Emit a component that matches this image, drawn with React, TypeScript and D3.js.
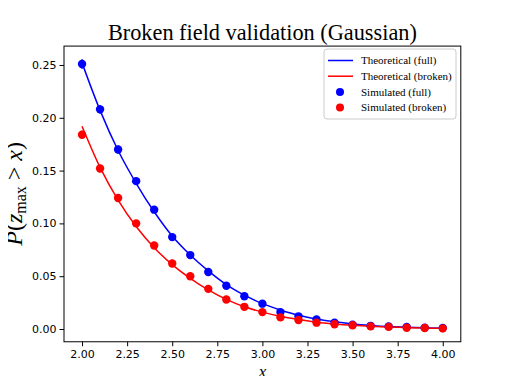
import React, { useEffect, useRef } from "react";
import * as d3 from "d3";

// x grid of the simulation / theory
const xs = [2.0, 2.1, 2.2, 2.3, 2.4, 2.5, 2.6, 2.7, 2.8, 2.9, 3.0, 3.1, 3.2, 3.3, 3.4, 3.5, 3.6, 3.7, 3.8, 3.9, 4.0];

const theoryFull = [0.252, 0.207, 0.169, 0.138, 0.111, 0.088, 0.070, 0.055, 0.042, 0.032, 0.024, 0.018, 0.013, 0.0095, 0.0068, 0.0048, 0.0034, 0.0023, 0.0016, 0.0011, 0.0007];
const theoryBroken = [0.192, 0.153, 0.122, 0.097, 0.077, 0.061, 0.048, 0.037, 0.028, 0.021, 0.016, 0.012, 0.009, 0.0065, 0.0048, 0.0035, 0.0025, 0.0018, 0.0013, 0.0009, 0.0006];

const simFull = [0.251, 0.208, 0.170, 0.140, 0.113, 0.087, 0.070, 0.054, 0.041, 0.031, 0.024, 0.016, 0.012, 0.009, 0.006, 0.004, 0.003, 0.0025, 0.002, 0.0013, 0.001];
const simFullErr = [0.0045, 0.0041, 0.0038, 0.0035, 0.0032, 0.0028, 0.0026, 0.0023, 0.002, 0.0017, 0.0015, 0.0013, 0.0011, 0.0009, 0.0008, 0.0006, 0.0005, 0.0005, 0.0004, 0.0004, 0.0003];
const simBroken = [0.184, 0.152, 0.124, 0.100, 0.079, 0.062, 0.050, 0.038, 0.028, 0.021, 0.016, 0.011, 0.0085, 0.006, 0.0045, 0.0035, 0.0025, 0.002, 0.0012, 0.001, 0.0006];
const simBrokenErr = [0.0039, 0.0036, 0.0033, 0.003, 0.0027, 0.0024, 0.0022, 0.0019, 0.0017, 0.0014, 0.0013, 0.0011, 0.0009, 0.0008, 0.0007, 0.0006, 0.0005, 0.0004, 0.0003, 0.0003, 0.0002];

const xTicks = [2.0, 2.25, 2.5, 2.75, 3.0, 3.25, 3.5, 3.75, 4.0];
const yTicks = [0.0, 0.05, 0.1, 0.15, 0.2, 0.25];

const legendItems = [
  { label: "Theoretical (full)", color: "blue", kind: "line" },
  { label: "Theoretical (broken)", color: "red", kind: "line" },
  { label: "Simulated (full)", color: "blue", kind: "dot" },
  { label: "Simulated (broken)", color: "red", kind: "dot" },
];

const W = 512, H = 384;
const left = 64, right = 460.8, top = 46.08, bottom = 341.76;
const serif = "'Liberation Serif', 'Times New Roman', serif";

export default function App() {
  const ref = useRef<SVGSVGElement>(null);

  useEffect(() => {
    const svg = d3.select(ref.current);
    svg.selectAll("*").remove();

    const x = d3.scaleLinear().domain([1.9, 4.1]).range([left, right]);
    const y = d3.scaleLinear().domain([-0.01208, 0.2679]).range([bottom, top]);

    svg.append("rect").attr("width", W).attr("height", H).attr("fill", "white");

    const line = d3.line<[number, number]>()
      .curve(d3.curveMonotoneX)
      .x(d => x(d[0]))
      .y(d => y(d[1]));

    const g = svg.append("g");

    const series = [
      { theory: theoryFull, sim: simFull, err: simFullErr, color: "blue" },
      { theory: theoryBroken, sim: simBroken, err: simBrokenErr, color: "red" },
    ];

    series.forEach(s => {
      g.append("path")
        .datum(xs.map((v, i) => [v, s.theory[i]] as [number, number]))
        .attr("fill", "none")
        .attr("stroke", s.color)
        .attr("stroke-width", 1.5)
        .attr("d", line);
    });

    series.forEach(s => {
      g.selectAll(null)
        .data(xs)
        .enter()
        .append("line")
        .attr("x1", d => x(d))
        .attr("x2", d => x(d))
        .attr("y1", (d, i) => y(s.sim[i] - s.err[i]))
        .attr("y2", (d, i) => y(s.sim[i] + s.err[i]))
        .attr("stroke", s.color)
        .attr("stroke-width", 1.5);
      g.selectAll(null)
        .data(xs)
        .enter()
        .append("circle")
        .attr("cx", d => x(d))
        .attr("cy", (d, i) => y(s.sim[i]))
        .attr("r", 4.2)
        .attr("fill", s.color);
    });

    // frame
    svg.append("rect")
      .attr("x", left).attr("y", top)
      .attr("width", right - left).attr("height", bottom - top)
      .attr("fill", "none").attr("stroke", "black").attr("stroke-width", 1);

    const xAxis = svg.append("g")
      .attr("transform", `translate(0,${bottom})`)
      .call(d3.axisBottom(x).tickValues(xTicks).tickFormat(d3.format(".2f")).tickSize(4.5).tickSizeOuter(0));
    xAxis.select(".domain").remove();
    xAxis.selectAll("text").attr("font-family", "DejaVu Sans").attr("font-size", 11).attr("dy", "0.75em").attr("y", 8).attr("fill", "black");

    const yAxis = svg.append("g")
      .attr("transform", `translate(${left},0)`)
      .call(d3.axisLeft(y).tickValues(yTicks).tickFormat(d3.format(".2f")).tickSize(4.5).tickSizeOuter(0));
    yAxis.select(".domain").remove();
    yAxis.selectAll("text").attr("font-family", "DejaVu Sans").attr("font-size", 11).attr("x", -7.5).attr("fill", "black");

    // title
    svg.append("text")
      .attr("x", (left + right) / 2).attr("y", 40)
      .attr("text-anchor", "middle")
      .attr("font-family", serif)
      .attr("font-size", 22.3)
      .text("Broken field validation (Gaussian)");

    // x label
    svg.append("text")
      .attr("x", (left + right) / 2).attr("y", 377)
      .attr("text-anchor", "middle")
      .attr("font-family", serif)
      .attr("font-style", "italic")
      .attr("font-size", 17)
      .text("x");

    // y label
    const yl = svg.append("text")
      .attr("transform", `translate(22,${(top + bottom) / 2}) rotate(-90)`)
      .attr("text-anchor", "middle")
      .attr("font-family", serif)
      .attr("font-size", 24);
    yl.append("tspan").attr("font-style", "italic").text("P");
    yl.append("tspan").text("(");
    yl.append("tspan").attr("font-style", "italic").text("z");
    yl.append("tspan").attr("font-size", 16).attr("dy", 4).text("max");
    yl.append("tspan").attr("dy", -4).text(" > ");
    yl.append("tspan").attr("font-style", "italic").text("x");
    yl.append("tspan").text(")");

    // legend
    const lg = svg.append("g").attr("transform", "translate(324,49)");
    lg.append("rect")
      .attr("width", 132).attr("height", 70)
      .attr("rx", 3)
      .attr("fill", "white").attr("fill-opacity", 0.8)
      .attr("stroke", "#cccccc");
    legendItems.forEach((it, i) => {
      const cy = 11.5 + i * 15.7;
      if (it.kind === "line") {
        lg.append("line").attr("x1", 4).attr("x2", 29).attr("y1", cy).attr("y2", cy)
          .attr("stroke", it.color).attr("stroke-width", 1.5);
      } else {
        lg.append("circle").attr("cx", 16).attr("cy", cy).attr("r", 4).attr("fill", it.color);
      }
      lg.append("text").attr("x", 37).attr("y", cy).attr("dy", "0.35em")
        .attr("font-family", serif).attr("font-size", 11)
        .text(it.label);
    });
  }, []);

  return <svg ref={ref} width={W} height={H} style={{ display: "block", margin: "-8px" }} />;
}
